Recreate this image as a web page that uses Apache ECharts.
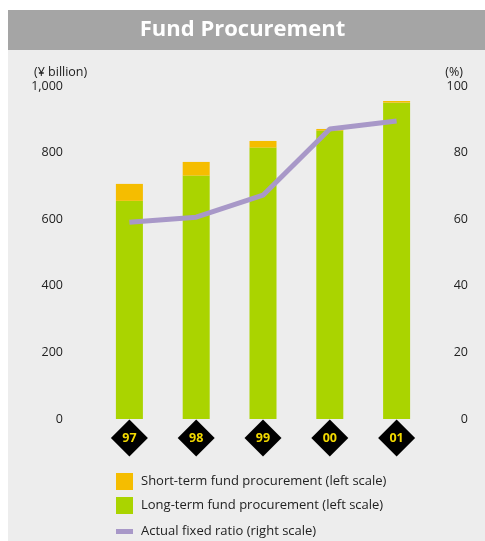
<!DOCTYPE html>
<html lang="en">
<head>
    <meta charset="UTF-8">
    <title>Fund Procurement</title>
    <style>
        body { margin: 0; background: #ffffff; }
        #panel { position: absolute; left: 8px; top: 10px; width: 477px; height: 531px; background: #ededed; }
        #bar { position: absolute; left: 0; top: 0; width: 477px; height: 40px; background: #a5a5a5; }
        #main { position: absolute; left: 0; top: 0; width: 485px; height: 541px; }
    </style>
</head>
<body>
    <div id="panel"><div id="bar"></div></div>
    <div id="main"></div>
    <script src="https://cdn.jsdelivr.net/npm/echarts@6/dist/echarts.min.js"></script>
    <script>
        var years = ['97', '98', '99', '00', '01'];
        var shortTerm = [51, 41, 20, 5, 5];
        var longTerm = [655, 731, 815, 866, 950];
        var fixedRatio = [59.1, 60.6, 67.2, 87.1, 89.5];
        var leftTicks = ['0', '200', '400', '600', '800', '1,000'];

        var font = '"Open Sans", "Noto Sans", sans-serif';
        var myChart = echarts.init(document.getElementById('main'));

        // one legend per row so the rows sit where the original has them
        function legendRow(name, icon, top) {
            return {
                left: 116,
                top: top,
                padding: 0,
                itemWidth: 17,
                itemHeight: 17,
                textStyle: { color: '#222', fontSize: 13, fontFamily: font, padding: [0, 0, 0, 3] },
                data: [{ name: name, icon: icon }]
            };
        }

        var option = {
            animation: false,
            title: [{
                text: 'Fund Procurement',
                left: 'center',
                top: 14,
                textStyle: { color: '#ffffff', fontSize: 22, fontWeight: 'bold', fontFamily: font }
            }, {
                text: '(¥ billion)',
                left: 29,
                top: 61,
                textStyle: { color: '#222', fontSize: 12.5, fontWeight: 'normal', fontFamily: font }
            }, {
                text: '(%)',
                right: 17,
                top: 61,
                textStyle: { color: '#222', fontSize: 12.5, fontWeight: 'normal', fontFamily: font }
            }],
            legend: [
                legendRow('Short-term fund procurement (left scale)', 'rect', 473),
                legendRow('Long-term fund procurement (left scale)', 'rect', 497),
                legendRow('Actual fixed ratio (right scale)', 'path://M0,0 L17,0 L17,5 L0,5 Z', 525)
            ],
            grid: [
                { left: 96, right: 55, top: 86, bottom: 122 },
                { left: 96, right: 55, top: 419, height: 38 }
            ],
            xAxis: [{
                type: 'category',
                data: years,
                gridIndex: 0,
                axisLine: { show: false },
                axisTick: { show: false },
                axisLabel: { show: false }
            }, {
                type: 'category',
                data: years,
                gridIndex: 1,
                show: false
            }],
            yAxis: [{
                type: 'value',
                min: 0,
                max: 1000,
                interval: 200,
                gridIndex: 0,
                splitLine: { show: false },
                axisLine: { show: false },
                axisTick: { show: false },
                axisLabel: {
                    margin: 33,
                    color: '#222',
                    fontSize: 12.5,
                    fontFamily: font,
                    padding: [4, 0, 0, 0],
                    formatter: function (v) { return leftTicks[v / 200]; }
                }
            }, {
                type: 'value',
                min: 0,
                max: 100,
                interval: 20,
                gridIndex: 0,
                position: 'right',
                splitLine: { show: false },
                axisLine: { show: false },
                axisTick: { show: false },
                axisLabel: { margin: 38, align: 'right', color: '#222', fontSize: 12.5, fontFamily: font, padding: [4, 0, 0, 0] }
            }, {
                type: 'value',
                min: 0,
                max: 1,
                gridIndex: 1,
                show: false
            }],
            series: [{
                name: 'Long-term fund procurement (left scale)',
                type: 'bar',
                stack: 'fund',
                barWidth: 27,
                itemStyle: { color: '#aad400' },
                data: longTerm
            }, {
                name: 'Short-term fund procurement (left scale)',
                type: 'bar',
                stack: 'fund',
                barWidth: 27,
                itemStyle: { color: '#f5bd00' },
                data: shortTerm
            }, {
                name: 'Actual fixed ratio (right scale)',
                type: 'line',
                yAxisIndex: 1,
                symbol: 'none',
                lineStyle: { color: '#a898c8', width: 5 },
                itemStyle: { color: '#a898c8' },
                data: fixedRatio
            }, {
                type: 'scatter',
                xAxisIndex: 1,
                yAxisIndex: 2,
                symbol: 'diamond',
                symbolSize: 37,
                itemStyle: { color: '#000000', opacity: 1 },
                label: {
                    show: true,
                    position: 'inside',
                    color: '#f2d800',
                    fontSize: 12.5,
                    fontWeight: 'bold',
                    fontFamily: font,
                    formatter: function (p) { return years[p.dataIndex]; }
                },
                data: years.map(function (y) { return [y, 0.5]; })
            }]
        };
        myChart.setOption(option);
    </script>
</body>
</html>
